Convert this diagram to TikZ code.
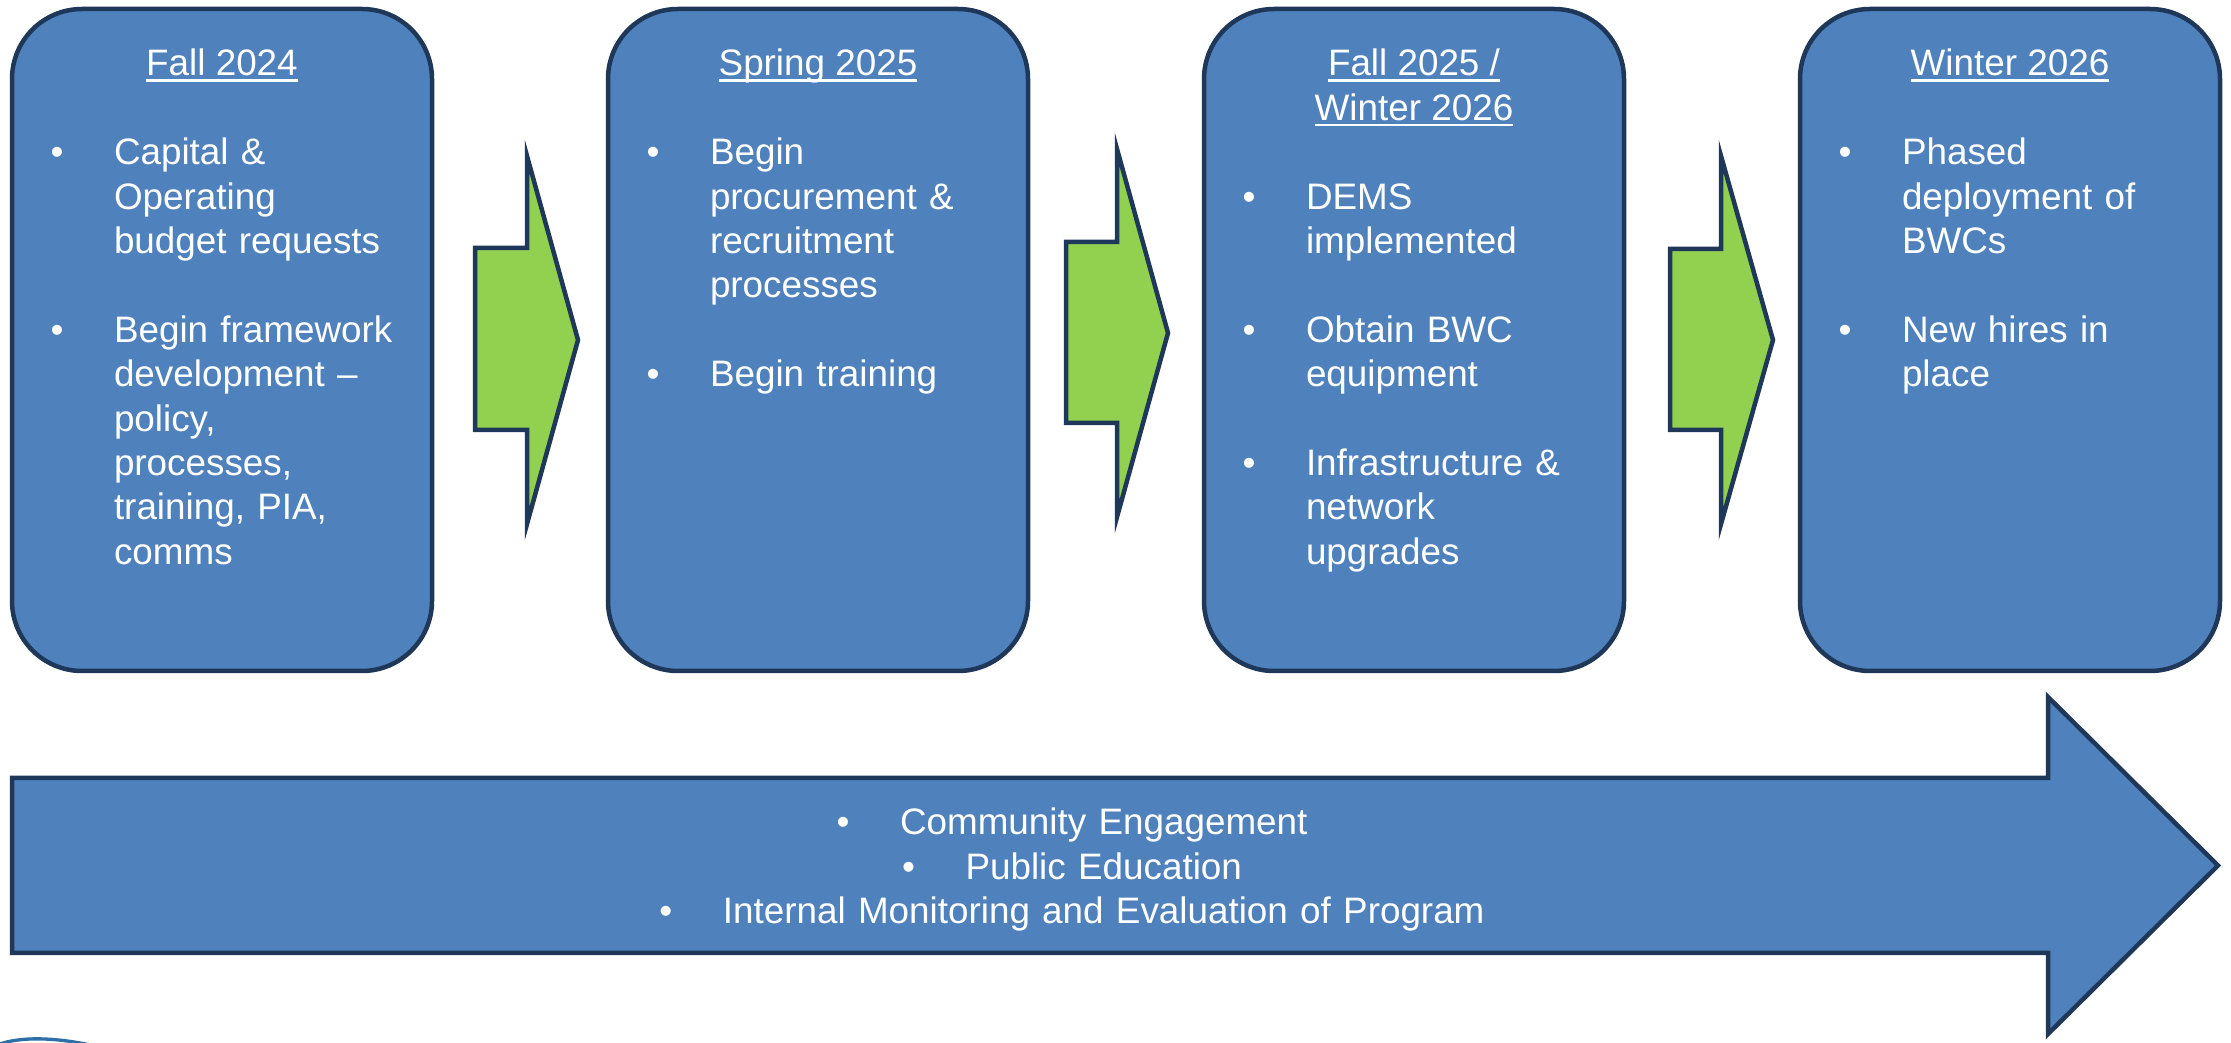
\documentclass[tikz,border=0pt]{standalone}
\usepackage{fontspec}
\setmainfont{Liberation Sans}
\definecolor{boxblue}{HTML}{4F81BD}
\definecolor{navy}{HTML}{1F3859}
\definecolor{arrowgreen}{HTML}{92D050}
\definecolor{arcblue}{HTML}{2E6FA8}
\begin{document}
\begin{tikzpicture}[x=0.3pt,y=-0.3pt,
  box/.style={rectangle, rounded corners=21pt, draw=navy, line width=1.35pt, fill=boxblue,
    minimum width=126pt, minimum height=198.6pt, inner sep=0pt, outer sep=0pt},
  txt/.style={text=white, font=\fontsize{11.05pt}{13.32pt}\selectfont, inner sep=0pt, outer sep=0pt},
  item/.style={txt, anchor=base west, text width=110pt, align=left},
  blt/.style={txt, anchor=base},
  ttl/.style={txt, anchor=base},
  uline/.style={white, line width=0.75pt},
  garrow/.style={draw=navy, fill=arrowgreen, line width=1.35pt, line join=miter},
  barrow/.style={draw=navy, fill=boxblue, line width=1.35pt, line join=miter},
  bottomtxt/.style={txt, anchor=base, text width=300pt, align=center}]
\useasboundingbox (0,0) rectangle (2231,1043);
\fill[white] (0,0) rectangle (2231,1043);

% boxes
\node[box] (b1) at (222,340) {};
\node[box] (b2) at (818,340) {};
\node[box] (b3) at (1414,340) {};
\node[box] (b4) at (2010,340) {};

% green arrows between boxes
\draw[garrow] (475,248) -- (527,248) -- (527,156) -- (578,340) -- (527,524) -- (527,430) -- (475,430) -- cycle;
\draw[garrow] (1066,242) -- (1117,242) -- (1117,149) -- (1168,333) -- (1117,517) -- (1117,423) -- (1066,423) -- cycle;
\draw[garrow] (1670,249) -- (1721,249) -- (1721,156) -- (1773,340) -- (1721,524) -- (1721,430) -- (1670,430) -- cycle;

% big bottom arrow
\draw[barrow] (12,778) -- (2048,778) -- (2048,697) -- (2218,865.5) -- (2048,1034) -- (2048,953) -- (12,953) -- cycle;

% partial arc at bottom left
\draw[arcblue, line width=1pt] (-5,1046) .. controls (15,1037) and (50,1036) .. (95,1046);

% titles
\node[ttl] (t1) at (222,76) {Fall 2024};
\node[ttl] (t2) at (818,76) {Spring 2025};
\node[ttl] (t3a) at (1414,76) {Fall 2025 /};
\node[ttl] (t3b) at (1414,120.4) {Winter 2026};
\node[ttl] (t4) at (2010,76) {Winter 2026};
\foreach \t in {t1,t2,t3a,t3b,t4}
  \draw[uline] ([yshift=-1.41pt]\t.base west) -- ([yshift=-1.41pt]\t.base east);

% box 1
\node[blt] (b1d1) at (57,164.8) {•};
\node[item] (b1i1) at (114,164.8) {Capital \&\\Operating\\budget requests};
\node[blt] (b1d2) at (57,342.4) {•};
\node[item] (b1i2) at (114,342.4) {Begin framework\\development –\\policy,\\processes,\\training, PIA,\\comms};

% box 2
\node[blt] (b2d1) at (653,164.8) {•};
\node[item] (b2i1) at (710,164.8) {Begin\\procurement \&\\recruitment\\processes};
\node[blt] (b2d2) at (653,386.8) {•};
\node[item] (b2i2) at (710,386.8) {Begin training};

% box 3
\node[blt] (b3d1) at (1249,209.2) {•};
\node[item] (b3i1) at (1306,209.2) {DEMS\\implemented};
\node[blt] (b3d2) at (1249,342.4) {•};
\node[item] (b3i2) at (1306,342.4) {Obtain BWC\\equipment};
\node[blt] (b3d3) at (1249,475.6) {•};
\node[item] (b3i3) at (1306,475.6) {Infrastructure \&\\network\\upgrades};

% box 4
\node[blt] (b4d1) at (1845,164.8) {•};
\node[item] (b4i1) at (1902,164.8) {Phased\\deployment of\\BWCs};
\node[blt] (b4d2) at (1845,342.4) {•};
\node[item] (b4i2) at (1902,342.4) {New hires in\\place};

% bottom arrow text
\node[bottomtxt] (ongoing) at (1072,835) {\makebox[19.05pt][l]{•}Community Engagement\\
  \makebox[19.05pt][l]{•}Public Education\\
  \makebox[19.05pt][l]{•}Internal Monitoring and Evaluation of Program};
\end{tikzpicture}
\end{document}
